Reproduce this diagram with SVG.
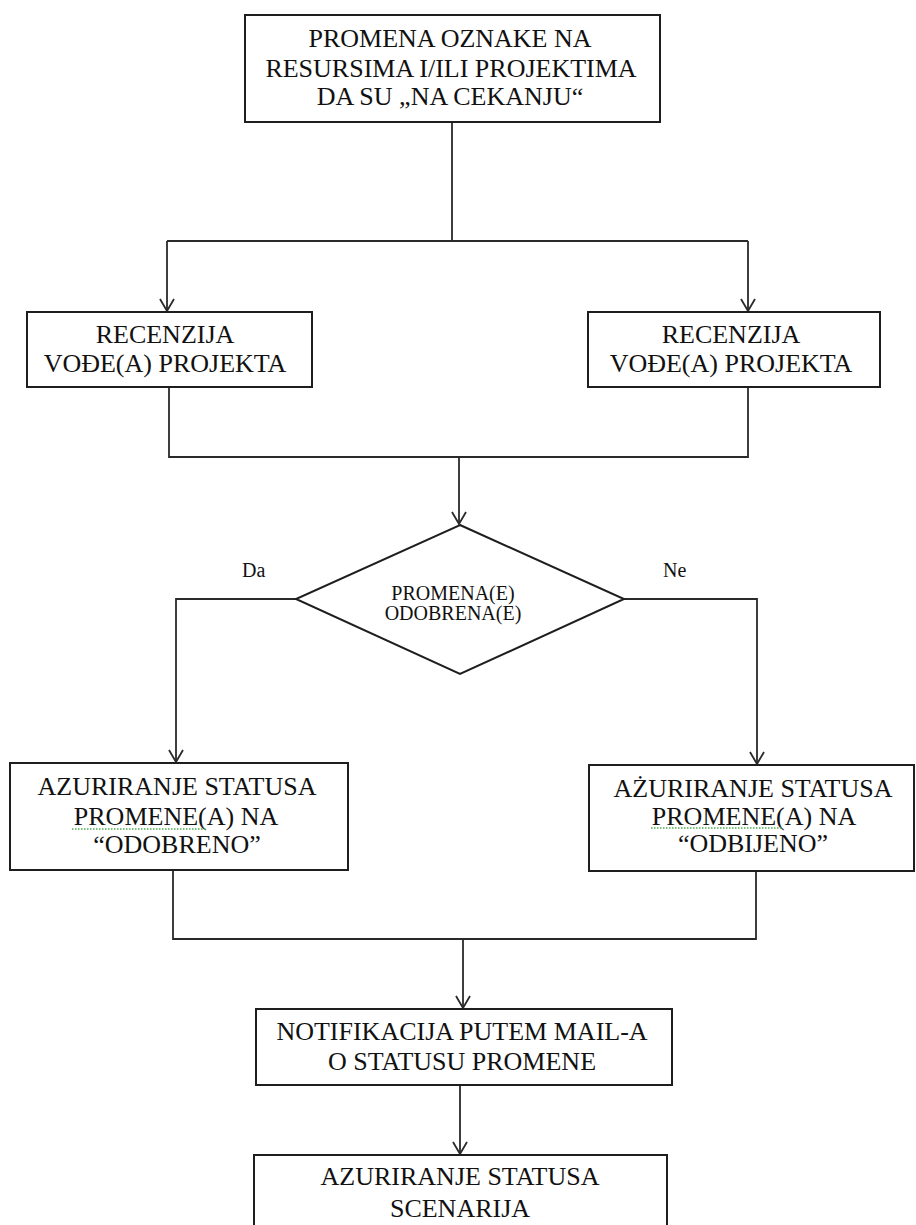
<svg xmlns="http://www.w3.org/2000/svg" width="916" height="1225" viewBox="0 0 916 1225">
<style>
.box{fill:#fff;stroke:#1e1e1e;stroke-width:2}
.t{font-family:"Liberation Serif","Times New Roman",serif;font-size:26px;fill:#111;text-anchor:middle}
.ts{font-family:"Liberation Serif","Times New Roman",serif;font-size:20px;fill:#111;text-anchor:middle}
.lbl{font-family:"Liberation Serif","Times New Roman",serif;font-size:20px;fill:#111}
.c{fill:none;stroke:#2a2a2a;stroke-width:1.8}
.sp{fill:none;stroke:#4caf50;stroke-width:1.5;stroke-dasharray:1.5 1.5}
</style>
<defs>
<marker id="ah" markerUnits="userSpaceOnUse" markerWidth="16" markerHeight="16" refX="12" refY="7" orient="auto" overflow="visible">
<path d="M0,0 L12,7 L0,14" fill="none" stroke="#2a2a2a" stroke-width="1.8"/>
</marker>
</defs>
<rect width="916" height="1225" fill="#fff"/>
<g id="connectors">
<path class="c" d="M452,122 V241"/>
<path class="c" d="M167,241 H748"/>
<path class="c" d="M167,241 V311" marker-end="url(#ah)"/>
<path class="c" d="M748,241 V311" marker-end="url(#ah)"/>
<path class="c" d="M169,387 V457 H748 V387"/>
<path class="c" d="M459,457 V524" marker-end="url(#ah)"/>
<path class="c" d="M296,599 H176 V762" marker-end="url(#ah)"/>
<path class="c" d="M624,599 H757 V764" marker-end="url(#ah)"/>
<path class="c" d="M173,870 V939 H756 V871"/>
<path class="c" d="M463,939 V1008" marker-end="url(#ah)"/>
<path class="c" d="M460,1085 V1154" marker-end="url(#ah)"/>
</g>
<g id="n-start">
<rect class="box" x="245" y="15" width="415" height="107"/>
<text class="t" x="450" y="47">PROMENA OZNAKE NA</text>
<text class="t" x="451" y="77">RESURSIMA I/ILI PROJEKTIMA</text>
<text class="t" x="450" y="105">DA SU „NA CEKANJU“</text>
</g>
<g id="n-review-left">
<rect class="box" x="27" y="312" width="285" height="75"/>
<text class="t" x="165" y="343">RECENZIJA</text>
<text class="t" x="165" y="372">VOĐE(A) PROJEKTA</text>
</g>
<g id="n-review-right">
<rect class="box" x="588" y="312" width="292" height="75"/>
<text class="t" x="731" y="343">RECENZIJA</text>
<text class="t" x="731" y="372">VOĐE(A) PROJEKTA</text>
</g>
<g id="n-decision">
<polygon class="box" points="460,525 624,599 460,674 296,599"/>
<text class="ts" x="453" y="600">PROMENA(E)</text>
<text class="ts" x="453" y="620">ODOBRENA(E)</text>
<text class="lbl" x="242" y="577">Da</text>
<text class="lbl" x="663" y="577">Ne</text>
</g>
<g id="n-approved">
<rect class="box" x="10" y="763" width="338" height="107"/>
<text class="t" x="177" y="795">AZURIRANJE STATUSA</text>
<text class="t" x="176" y="825">PROMENE(A) NA</text>
<text class="t" x="177" y="853">“ODOBRENO”</text>
<path class="sp" d="M72,829 H207"/>
</g>
<g id="n-rejected">
<rect class="box" x="589" y="765" width="325" height="106"/>
<text class="t" x="753" y="797">AŻURIRANJE STATUSA</text>
<text class="t" x="754" y="825">PROMENE(A) NA</text>
<text class="t" x="753" y="852">“ODBIJENO”</text>
<path class="sp" d="M651,828 H783"/>
</g>
<g id="n-notify">
<rect class="box" x="256" y="1009" width="416" height="76"/>
<text class="t" x="462" y="1040">NOTIFIKACIJA PUTEM MAIL-A</text>
<text class="t" x="462" y="1070">O STATUSU PROMENE</text>
</g>
<g id="n-scenario">
<rect class="box" x="254" y="1155" width="413" height="90"/>
<text class="t" x="460" y="1185">AZURIRANJE STATUSA</text>
<text class="t" x="460" y="1217">SCENARIJA</text>
</g>
</svg>
